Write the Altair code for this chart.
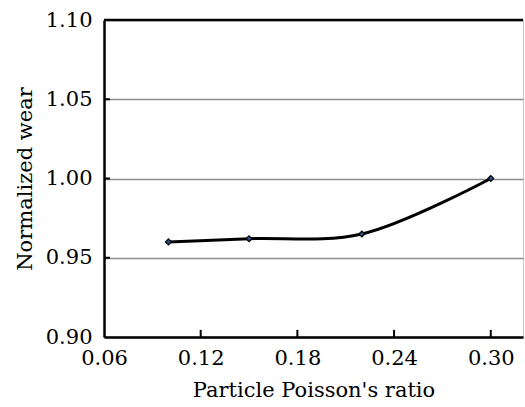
import altair as alt
import pandas as pd

poisson = [0.10, 0.15, 0.22, 0.30]
wear = [0.960, 0.962, 0.965, 1.000]
x_ticks = [0.06, 0.12, 0.18, 0.24, 0.30]
y_ticks = [0.90, 0.95, 1.00, 1.05, 1.10]
x_inner_ticks = [0.12, 0.18, 0.24, 0.30]
y_inner_ticks = [0.95, 1.00, 1.05]

df = pd.DataFrame({"x": poisson, "y": wear})
xt = pd.DataFrame({"x": x_inner_ticks, "y0": [0.90] * 4, "y1": [0.9045] * 4})
yt = pd.DataFrame({"y": y_inner_ticks, "x0": [0.06] * 3, "x1": [0.0637] * 3})
top = pd.DataFrame({"x0": [0.06], "x1": [0.32], "y": [1.10]})

FONT = "DejaVu Serif"
xs = alt.Scale(domain=[0.06, 0.32], nice=False, zero=False)
ys = alt.Scale(domain=[0.90, 1.10], nice=False, zero=False)

x_axis = alt.Axis(values=x_ticks, format=".2f", title="Particle Poisson's ratio",
                  grid=False, labelPadding=10, titlePadding=11,
                  labelFont=FONT, labelFontSize=21, titleFont=FONT, titleFontSize=21)
y_axis = alt.Axis(values=y_ticks, format=".2f", title="Normalized wear",
                  grid=True, labelPadding=12, titlePadding=10,
                  labelFont=FONT, labelFontSize=21, titleFont=FONT, titleFontSize=21)

line = alt.Chart(df).mark_line(interpolate="catmull-rom", color="black", strokeWidth=3).encode(
    x=alt.X("x:Q", scale=xs, axis=x_axis),
    y=alt.Y("y:Q", scale=ys, axis=y_axis),
)
pts = alt.Chart(df).mark_point(shape="diamond", filled=True, size=35, color="#2a4f8a",
                               stroke="black", strokeWidth=1.2, opacity=1).encode(
    x=alt.X("x:Q", scale=xs, axis=x_axis), y=alt.Y("y:Q", scale=ys, axis=y_axis))
xtick = alt.Chart(xt).mark_rule(color="black", strokeWidth=2).encode(
    x=alt.X("x:Q", scale=xs, axis=x_axis), y=alt.Y("y0:Q", scale=ys, axis=y_axis), y2="y1")
ytick = alt.Chart(yt).mark_rule(color="black", strokeWidth=2).encode(
    y=alt.Y("y:Q", scale=ys, axis=y_axis), x=alt.X("x0:Q", scale=xs, axis=x_axis), x2="x1")
topline = alt.Chart(top).mark_rule(color="black", strokeWidth=2.5).encode(
    y=alt.Y("y:Q", scale=ys, axis=y_axis), x=alt.X("x0:Q", scale=xs, axis=x_axis), x2="x1")

chart = alt.layer(line, xtick, ytick, topline, pts).properties(
    width=419, height=317,
    autosize=alt.AutoSizeParams(type="none"),
    padding={"left": 104, "top": 20, "right": 2, "bottom": 70},
    background="white",
).configure(font=FONT).configure_axis(
    labelColor="black", titleFontWeight="normal", titleColor="black",
    ticks=False, domainColor="black", domainWidth=2.5,
    gridColor="#8c8c8c", gridWidth=1.6, labelFlush=False,
).configure_view(stroke="#c8c8c8", strokeWidth=1)

chart.save("out.html", embed_options={"renderer": "svg", "actions": False})
